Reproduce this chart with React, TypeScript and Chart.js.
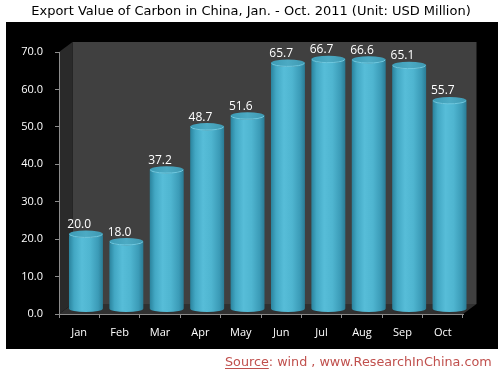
import React, { useEffect, useRef } from "react";
import { Chart, registerables } from "chart.js";

Chart.register(...registerables);

const months = ["Jan", "Feb", "Mar", "Apr", "May", "Jun", "Jul", "Aug", "Sep", "Oct"];
const exportValues = [20.0, 18.0, 37.2, 48.7, 51.6, 65.7, 66.7, 66.6, 65.1, 55.7];
const yTickValues = [0, 10, 20, 30, 40, 50, 60, 70];
const titleText = "Export Value of Carbon in China, Jan. - Oct. 2011 (Unit: USD Million)";
const sourceLabel = "Source";
const sourceRest = ": wind , www.ResearchInChina.com";

const DX = 13.5;
const DY = 10;
const W = 503;
const H = 373;

function fitFont(ctx: CanvasRenderingContext2D, text: string, family: string, target: number, start: number) {
  let size = start;
  for (let i = 0; i < 60; i++) {
    ctx.font = `${size}px ${family}`;
    const w = ctx.measureText(text).width;
    if (w <= target) break;
    size -= 0.25;
  }
  return size;
}

const scenePlugin = {
  id: "scene3d",
  beforeDraw(chart: any) {
    const ctx: CanvasRenderingContext2D = chart.ctx;
    const a = chart.chartArea;
    ctx.save();
    ctx.fillStyle = "#ffffff";
    ctx.fillRect(0, 0, chart.width, chart.height);
    // black panel
    ctx.fillStyle = "#000000";
    ctx.fillRect(6, 22, 492, 327);
    // back wall
    ctx.fillStyle = "#404040";
    ctx.fillRect(a.left + DX, a.top - DY, a.right - a.left, a.bottom - a.top);
    // side wall
    ctx.fillStyle = "#2a2a2a";
    ctx.beginPath();
    ctx.moveTo(a.left, a.top);
    ctx.lineTo(a.left + DX, a.top - DY);
    ctx.lineTo(a.left + DX, a.bottom - DY);
    ctx.lineTo(a.left, a.bottom);
    ctx.closePath();
    ctx.fill();
    // floor
    ctx.fillStyle = "#303030";
    ctx.beginPath();
    ctx.moveTo(a.left, a.bottom);
    ctx.lineTo(a.right, a.bottom);
    ctx.lineTo(a.right + DX, a.bottom - DY);
    ctx.lineTo(a.left + DX, a.bottom - DY);
    ctx.closePath();
    ctx.fill();

    // title
    const tFamily = '"DejaVu Sans"';
    const tSize = fitFont(ctx, titleText, tFamily, 445, 16);
    ctx.font = `${tSize}px ${tFamily}`;
    ctx.fillStyle = "#000000";
    ctx.textAlign = "center";
    ctx.textBaseline = "middle";
    ctx.fillText(titleText, 251, 12);

    // source
    const sFamily = '"DejaVu Sans"';
    const full = sourceLabel + sourceRest;
    const sSize = fitFont(ctx, full, sFamily, 270, 16);
    ctx.font = `${sSize}px ${sFamily}`;
    ctx.fillStyle = "#c0504d";
    ctx.textAlign = "left";
    ctx.textBaseline = "alphabetic";
    ctx.fillText(full, 225, 366);
    const lw = ctx.measureText(sourceLabel).width;
    ctx.strokeStyle = "#c0504d";
    ctx.lineWidth = 1;
    ctx.beginPath();
    ctx.moveTo(225, 368.5);
    ctx.lineTo(225 + lw, 368.5);
    ctx.stroke();
    ctx.restore();
  },
  afterDatasetsDraw(chart: any) {
    const ctx: CanvasRenderingContext2D = chart.ctx;
    const meta = chart.getDatasetMeta(0);
    const values = chart.data.datasets[0].data as number[];
    ctx.save();
    meta.data.forEach((el: any, i: number) => {
      const p = el.getProps(["x", "y", "base", "width"], true);
      const cx = p.x + DX / 2;
      const top = p.y - DY / 2;
      const bottom = p.base - DY / 2;
      const rx = p.width / 2;
      const ry = 3.6;
      const g = ctx.createLinearGradient(cx - rx, 0, cx + rx, 0);
      g.addColorStop(0, "#2a839d");
      g.addColorStop(0.15, "#42a7c3");
      g.addColorStop(0.38, "#57bdd8");
      g.addColorStop(0.62, "#4fb5d0");
      g.addColorStop(0.86, "#3b9bb7");
      g.addColorStop(1, "#2a7c95");
      ctx.fillStyle = g;
      ctx.beginPath();
      ctx.moveTo(cx - rx, top);
      ctx.lineTo(cx - rx, bottom);
      ctx.ellipse(cx, bottom, rx, ry, 0, Math.PI, 0, true);
      ctx.lineTo(cx + rx, top);
      ctx.ellipse(cx, top, rx, ry, 0, 0, Math.PI, false);
      ctx.closePath();
      ctx.fill();
      // top cap
      const tg = ctx.createLinearGradient(cx - rx, 0, cx + rx, 0);
      tg.addColorStop(0, "#3c9bb5");
      tg.addColorStop(0.5, "#4caac3");
      tg.addColorStop(1, "#3e98b1");
      ctx.fillStyle = tg;
      ctx.beginPath();
      ctx.ellipse(cx, top, rx, ry, 0, 0, Math.PI * 2);
      ctx.fill();
      ctx.strokeStyle = "#6fc9e0";
      ctx.lineWidth = 1;
      ctx.beginPath();
      ctx.ellipse(cx, top, rx - 0.5, ry - 0.3, 0, 0.1, Math.PI - 0.1, false);
      ctx.stroke();
      // label
      ctx.fillStyle = "#ffffff";
      ctx.font = '12px "Open Sans"';
      ctx.textAlign = "center";
      ctx.textBaseline = "middle";
      ctx.fillText(values[i].toFixed(1), p.x, p.y - 14.5);
    });
    ctx.restore();
  },
};

export default function App() {
  const ref = useRef<HTMLCanvasElement | null>(null);
  useEffect(() => {
    if (!ref.current) return;
    const axisGray = "#8c8c8c";
    const chart = new Chart(ref.current, {
      type: "bar",
      data: {
        labels: months,
        datasets: [
          {
            data: exportValues,
            backgroundColor: "rgba(0,0,0,0)",
            borderWidth: 0,
            barPercentage: 0.84,
            categoryPercentage: 1,
          },
        ],
      },
      options: {
        animation: false,
        responsive: false,
        devicePixelRatio: 1,
        layout: { padding: { left: 0, right: 40, top: 52, bottom: 0 } },
        plugins: { legend: { display: false }, tooltip: { enabled: false }, title: { display: false } },
        scales: {
          x: {
            grid: { offset: true, drawOnChartArea: false, drawTicks: true, tickLength: 4, color: axisGray },
            border: { color: axisGray, width: 1 },
            ticks: { color: "#ffffff", font: { family: "Open Sans", size: 11 }, padding: 8, maxRotation: 0 },
            afterFit: (s: any) => {
              s.height = 59;
            },
          },
          y: {
            min: 0,
            max: 70,
            afterBuildTicks: (s: any) => {
              s.ticks = yTickValues.map((v) => ({ value: v }));
            },
            grid: { drawOnChartArea: false, drawTicks: true, tickLength: 4, color: axisGray },
            border: { color: axisGray, width: 1 },
            ticks: {
              color: "#ffffff",
              font: { family: "Open Sans", size: 11 },
              padding: 12,
              callback: (v: any) => Number(v).toFixed(1),
            },
            afterFit: (s: any) => {
              s.width = 59;
            },
          },
        },
      },
      plugins: [scenePlugin],
    });
    return () => chart.destroy();
  }, []);
  return (
    <div style={{ position: "absolute", left: 0, top: 0, width: W, height: H }}>
      <canvas ref={ref} width={W} height={H} style={{ display: "block", width: W, height: H }} />
    </div>
  );
}
